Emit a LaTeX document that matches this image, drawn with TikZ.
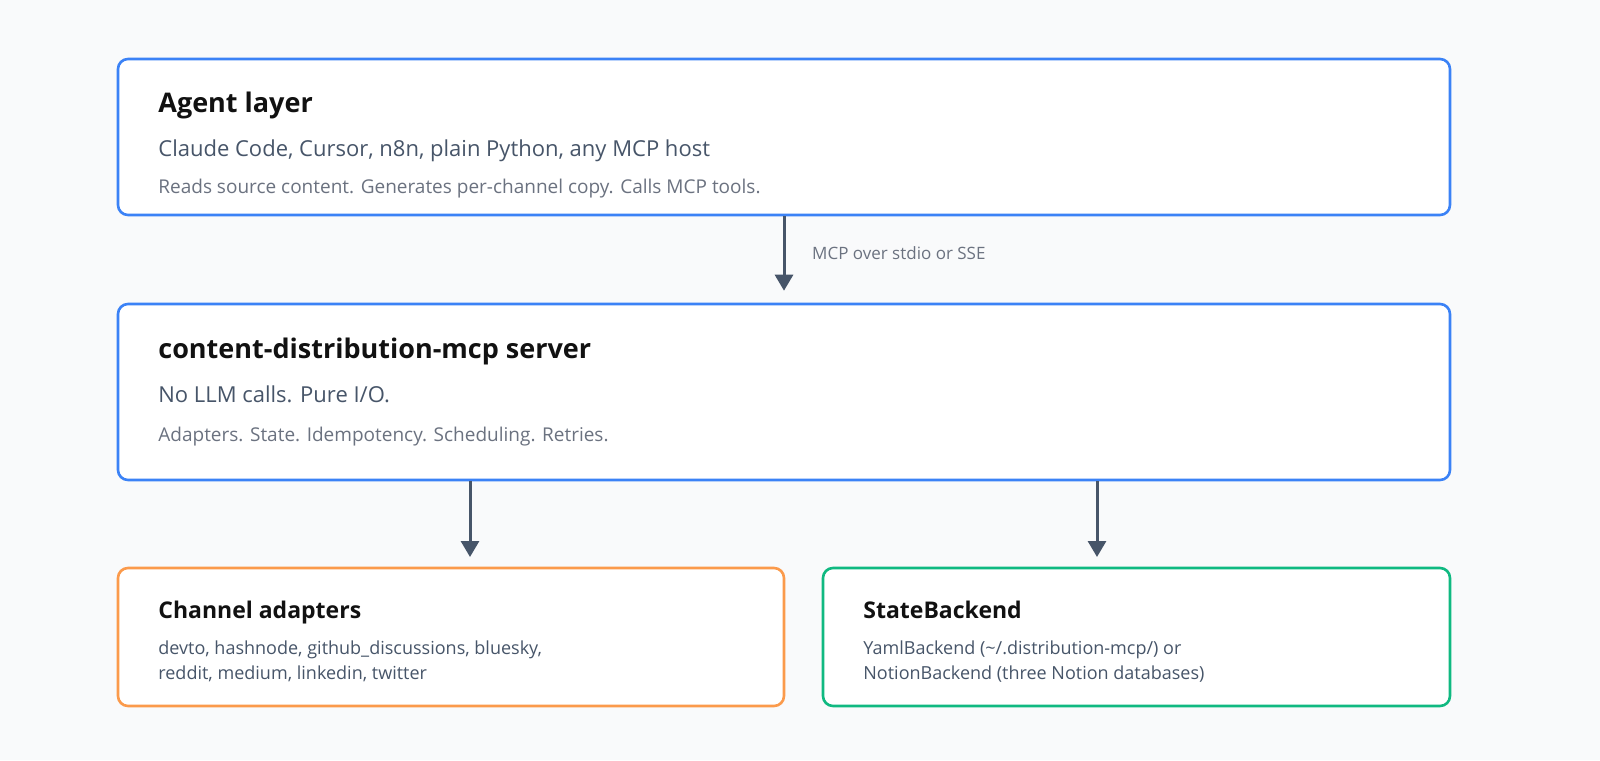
\documentclass[tikz,border=0pt]{standalone}
\usepackage{fontspec}
\setmainfont{Open Sans}
\usetikzlibrary{arrows.meta, positioning, calc}
\definecolor{bgray}{HTML}{F9FAFB}
\definecolor{lyblue}{HTML}{3B82F6}
\definecolor{lyorange}{HTML}{FB9A4B}
\definecolor{lygreen}{HTML}{10B981}
\definecolor{lyslate}{HTML}{475569}
\definecolor{lygray}{HTML}{6B7280}
\definecolor{lydark}{HTML}{111111}
\begin{document}
\begin{tikzpicture}[
  x=0.5pt, y=-0.5pt,
  layer/.style={rectangle, draw, line width=1.3pt, rounded corners=5pt, fill=white, inner sep=0pt},
  title/.style={anchor=base west, font=\fontsize{13.5}{15}\selectfont\bfseries, text=lydark, inner sep=0pt},
  sub/.style={anchor=base west, font=\fontsize{11}{13}\selectfont, text=lyslate, inner sep=0pt},
  note/.style={anchor=base west, font=\fontsize{9.5}{11}\selectfont, text=lygray, inner sep=0pt},
  body/.style={anchor=north west, font=\fontsize{9}{12.5}\selectfont, text=lyslate, inner sep=0pt, align=left},
  flow/.style={-{Triangle[length=8pt,width=9pt]}, lyslate, line width=1.5pt},
]
\fill[bgray] (0,0) rectangle (1600,760);
\useasboundingbox (0,0) rectangle (1600,760);

% boxes
\node[layer, draw=lyblue, minimum width=666pt, minimum height=78pt] (agent) at (784,137) {};
\node[layer, draw=lyblue, minimum width=666pt, minimum height=88pt] (server) at (784,392) {};
\node[layer, draw=lyorange, minimum width=333pt, minimum height=69pt] (chan) at (451,637) {};
\node[layer, draw=lygreen, minimum width=313.5pt, minimum height=69pt] (state) at (1136.5,637) {};

% agent layer
\node[title] (agentT) at (158,112) {Agent layer};
\node[sub] (agentS) at (158,156) {Claude Code, Cursor, n8n, plain Python, any MCP host};
\node[note] (agentN) at (158,193) {Reads source content. Generates per-channel copy. Calls MCP tools.};

% server
\node[title] (serverT) at (158,358) {content-distribution-mcp server};
\node[sub] (serverS) at (158,402) {No LLM calls. Pure I/O.};
\node[note] (serverN) at (158,441) {Adapters. State. Idempotency. Scheduling. Retries.};

% bottom row
\node[title, font=\fontsize{11.5}{13}\selectfont\bfseries] (chanT) at (158,618) {Channel adapters};
\node[body] (chanB) at (158,640) {devto, hashnode, github\_discussions, bluesky,\\reddit, medium, linkedin, twitter};
\node[title, font=\fontsize{11.5}{13}\selectfont\bfseries] (stateT) at (863,618) {StateBackend};
\node[body] (stateB) at (863,640) {YamlBackend (\textasciitilde/.distribution-mcp/) or\\NotionBackend (three Notion databases)};

% connectors
\coordinate (chanIn) at (470,557);
\coordinate (stateIn) at (1097,557);
\draw[flow] (agent.south) -- ([yshift=6pt]server.north) node[midway, right=10pt, font=\fontsize{8.5}{10}\selectfont, text=lygray] {MCP over stdio or SSE};
\draw[flow] (server.south -| chanIn) -- (chanIn);
\draw[flow] (server.south -| stateIn) -- (stateIn);
\end{tikzpicture}
\end{document}
